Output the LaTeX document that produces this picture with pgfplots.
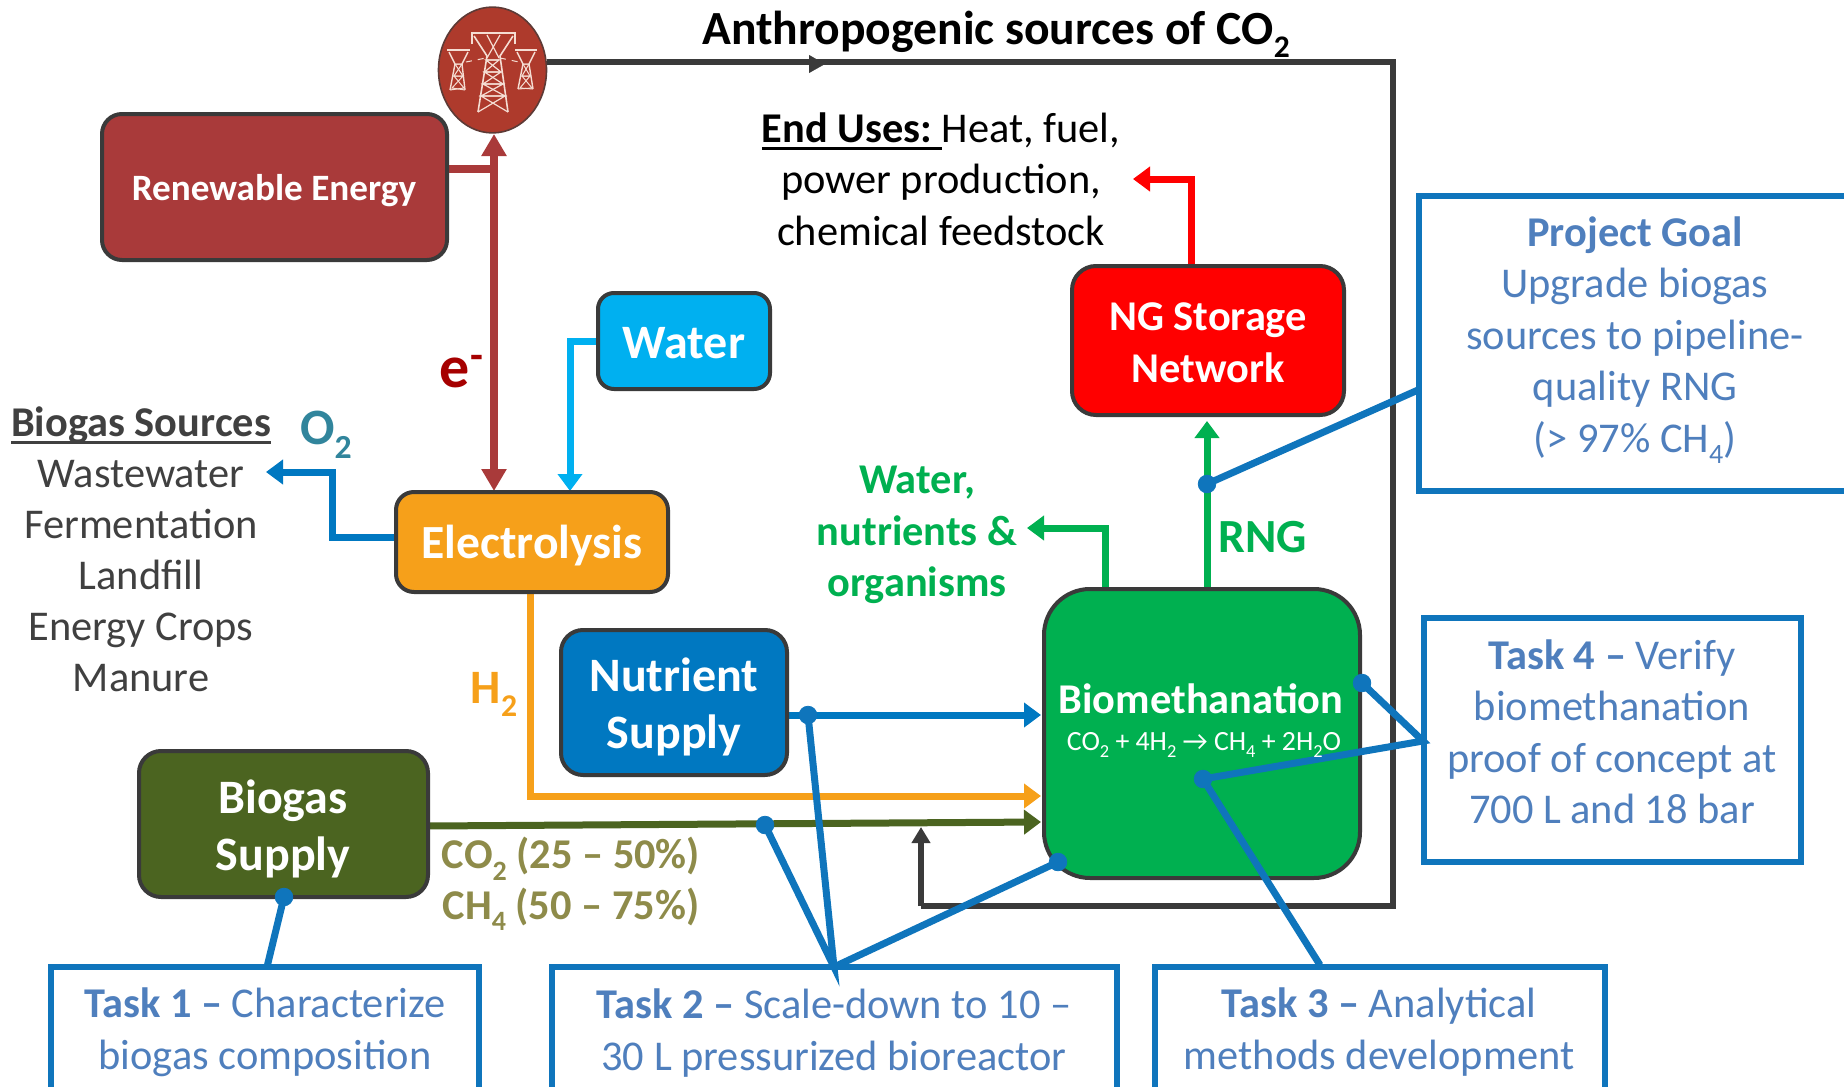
\documentclass[border=0pt]{standalone}
\usepackage{fontspec}
\setmainfont{Carlito}
\usepackage{pgfplots}
\pgfplotsset{compat=1.18}
\usetikzlibrary{arrows.meta}

\definecolor{frame}{HTML}{3A3A3A}
\definecolor{leader}{HTML}{0F75BC}
\definecolor{tasktxt}{HTML}{4F7FBD}
\definecolor{brick}{HTML}{A93A3A}
\definecolor{badge}{HTML}{AE3A2C}
\definecolor{sky}{HTML}{00B0F0}
\definecolor{amber}{HTML}{F6A01A}
\definecolor{deepblue}{HTML}{0078C1}
\definecolor{olive}{HTML}{4B6420}
\definecolor{grass}{HTML}{00B050}
\definecolor{khaki}{HTML}{8E8B4A}
\definecolor{teal}{HTML}{31859C}
\definecolor{grayt}{HTML}{404040}
\definecolor{pale}{HTML}{F5DDD3}

\newcommand{\fs}[2]{\fontsize{#1}{#2}\selectfont}
\newcommand{\ssub}[1]{\raisebox{-0.27em}{\scalebox{0.66}{#1}}}
\newsavebox{\ulbox}
\newcommand{\ul}[1]{\sbox{\ulbox}{#1}\usebox{\ulbox}\llap{\rule[-3.8pt]{\wd\ulbox}{1.3pt}}}

\pgfplotsset{
  link/.style={no markers, forget plot, line join=miter, line width=3.5pt},
  arr/.style={link, -{Triangle[length=8.5pt,width=12pt]}},
  box/.style={no markers, forget plot, draw=frame, line width=2pt, rounded corners=#1},
  task/.style={no markers, forget plot, draw=leader, line width=2.7pt, fill=white, line join=miter},
  dots/.style={only marks, forget plot, mark=*, mark size=4.4pt, mark options={fill=leader, draw=leader}},
  tower/.style={no markers, forget plot, color=pale, line width=0.8pt},
}

\begin{document}
\begin{tikzpicture}
\useasboundingbox (0,0) rectangle (922pt,543.5pt);
\begin{axis}[
  at={(0,0)}, anchor=south west,
  width=922pt, height=543.5pt, scale only axis,
  xmin=0, xmax=1844, ymin=0, ymax=1087,
  y dir=reverse, hide axis, clip marker paths=true,
]
% outer CO2 loop
\addplot[link, color=frame, line width=2.8pt] coordinates {(547,62) (1393,62) (1393,906) (921,906)};
\addplot[arr, color=frame, line width=2.8pt, -{Triangle[length=8pt,width=9pt]}] coordinates {(921,906) (921,827)};
\addplot[arr, color=frame, line width=0.1pt, -{Triangle[length=8pt,width=9pt]}] coordinates {(780,64) (825,64)};

% flows
\addplot[link, color=brick, line width=4pt] coordinates {(447,169) (494,169)};
\addplot[arr, color=brick, line width=4pt, {Triangle[length=11pt,width=12pt]}-{Triangle[length=11pt,width=12pt]}] coordinates {(494,134) (494,491)};
\addplot[arr, color=sky] coordinates {(597,341) (570,341) (570,491)};
\addplot[arr, color=deepblue] coordinates {(396,537) (332,537) (332,472) (266,472)};
\addplot[arr, color=amber] coordinates {(530,592) (530,796) (1041,796)};
\addplot[arr, color=olive] coordinates {(428,826) (1041,822)};
\addplot[arr, color=deepblue] coordinates {(787,715) (1041,715)};
\addplot[arr, color=grass] coordinates {(1105,588) (1105,528) (1027,528)};
\addplot[arr, color=grass] coordinates {(1207,588) (1207,421)};
\addplot[arr, color=red] coordinates {(1191,266) (1191,179) (1133,179)};

% process boxes
\addplot[box=10pt, fill=brick] coordinates {(102,114) (447,114) (447,260) (102,260)} --cycle;
\addplot[box=8pt, fill=sky] coordinates {(598,293) (770,293) (770,389) (598,389)} --cycle;
\addplot[box=9pt, fill=amber] coordinates {(396,492) (668,492) (668,592) (396,592)} --cycle;
\addplot[box=11pt, fill=deepblue] coordinates {(561,630) (787,630) (787,775) (561,775)} --cycle;
\addplot[box=11pt, fill=olive] coordinates {(139,751) (428,751) (428,897) (139,897)} --cycle;
\addplot[box=12pt, fill=red] coordinates {(1072,266) (1344,266) (1344,415) (1072,415)} --cycle;
\addplot[box=23pt, fill=grass] coordinates {(1044,589) (1360,589) (1360,878) (1044,878)} --cycle;

% pylon badge
\addplot[only marks, forget plot, mark=*, mark size=27pt, mark options={yscale=1.165, fill=badge, draw=frame!70!badge, line width=0.8pt}] coordinates {(492.5,70)};
\addplot[tower, line width=1.1pt] coordinates {(472,44) (472,33) (515,33) (515,44)};
\addplot[tower] coordinates {(474,36) (487,56) (478,112)};
\addplot[tower] coordinates {(513,36) (500,56) (508,112)};
\addplot[tower, line width=0.6pt] coordinates {(486,60) (499,60) (484.5,72) (501,72) (483,84) (503,84) (481,96) (505,96) (478,112)};
\addplot[tower, line width=0.6pt] coordinates {(499,60) (486,60) (501,72) (484.5,72) (503,84) (483,84) (505,96) (481,96) (508,112)};
\addplot[tower, line width=0.6pt] coordinates {(487,35) (499,58)};
\addplot[tower, line width=0.6pt] coordinates {(500,35) (487,58)};
\addplot[tower, line width=0.9pt] coordinates {(447,50) (470,50)};
\addplot[tower, line width=0.7pt] coordinates {(449,52) (455,64) (450,90)};
\addplot[tower, line width=0.7pt] coordinates {(468,52) (462,64) (465,90)};
\addplot[tower, line width=0.5pt] coordinates {(455,64) (462,64) (454,76) (463,76) (452,88) (465,90)};
\addplot[tower, line width=0.5pt] coordinates {(462,64) (455,64) (463,76) (454,76) (464,88) (450,90)};
\addplot[tower, line width=0.9pt] coordinates {(515,50) (537,50)};
\addplot[tower, line width=0.7pt] coordinates {(517,52) (523,64) (518,89)};
\addplot[tower, line width=0.7pt] coordinates {(535,52) (529,64) (533,89)};
\addplot[tower, line width=0.5pt] coordinates {(523,64) (529,64) (522,76) (530,76) (520,88) (533,89)};
\addplot[tower, line width=0.5pt] coordinates {(529,64) (523,64) (530,76) (522,76) (532,88) (518,89)};
\addplot[tower, dashed, line width=0.5pt] coordinates {(466,62) (486,58)};
\addplot[tower, dashed, line width=0.5pt] coordinates {(500,58) (519,62)};

% task boxes, cut by the picture edge where the reference is
\addplot[task] coordinates {(51,1095) (51,967) (479,967) (479,1095)};
\addplot[task] coordinates {(552,1095) (552,967) (1117,967) (1117,1095)};
\addplot[task] coordinates {(1155,1095) (1155,967) (1605,967) (1605,1095)};
\addplot[task] coordinates {(1424,618) (1801,618) (1801,862) (1424,862)} --cycle;
\addplot[task] coordinates {(1852,196) (1419,196) (1419,491) (1852,491)};

% leaders
\addplot[link, color=leader] coordinates {(1207,484) (1418,390)};
\addplot[link, color=leader] coordinates {(284,897) (267,967)};
\addplot[link, color=leader] coordinates {(808,715) (834,967) (765,825)};
\addplot[link, color=leader] coordinates {(834,967) (1058,862)};
\addplot[link, color=leader] coordinates {(1203,779) (1320,965)};
\addplot[link, color=leader] coordinates {(1362,683) (1423,741) (1203,779)};
\addplot[dots] coordinates {(1207,484) (284,897) (808,715) (765,825) (1058,862) (1203,779) (1362,683)};

% labels
\node[font=\fs{23.8}{28}\bfseries, text=black] at (996,34) {Anthropogenic sources of CO\ssub{2}};
\node[font=\fs{21.2}{25.85}, align=center] at (941,179) {\ul{\textbf{End Uses:}\ }Heat, fuel,\\power production,\\chemical feedstock};
\node[font=\fs{21.2}{25.5}, align=center, text=grayt] at (141,549) {\ul{\textbf{Biogas Sources}}\\Wastewater\\Fermentation\\Landfill\\Energy Crops\\Manure};
\node[font=\fs{18.6}{22}\bfseries, text=white] at (274,191) {Renewable Energy};
\node[font=\fs{24}{28}\bfseries, text=white] at (684,343) {Water};
\node[font=\fs{23.8}{28}\bfseries, text=white] at (532,546) {Electrolysis};
\node[font=\fs{24}{28.8}\bfseries, text=white, align=center] at (674,707) {Nutrient\\Supply};
\node[font=\fs{24}{28.8}\bfseries, text=white, align=center] at (283,829) {Biogas\\Supply};
\node[font=\fs{21.2}{25.85}\bfseries, text=white, align=center] at (1208,343) {NG Storage\\Network};
\node[font=\fs{21.2}{25.85}\bfseries, text=white] at (1201,699) {Biomethanation};
\node[font=\fs{13.9}{16}, text=white] at (1204,745) {CO\ssub{2} + 4H\ssub{2} → CH\ssub{4} + 2H\ssub{2}O};
\node[font=\fs{30}{34}\bfseries, text=red!65!black] at (462,372) {e\textsuperscript{-}};
\node[font=\fs{25.5}{30}\bfseries, text=teal] at (326,435) {O\ssub{2}};
\node[font=\fs{24}{28}\bfseries, text=amber] at (494,694) {H\ssub{2}};
\node[font=\fs{23.8}{28}\bfseries, text=grass] at (1263,537) {RNG};
\node[font=\fs{21.2}{25.85}\bfseries, text=grass, align=center] at (917,535) {Water,\\nutrients \&\\organisms};
\node[font=\fs{21.2}{25.3}\bfseries, text=khaki, align=center] at (571,884) {CO\ssub{2} (25 – 50\%)\\CH\ssub{4} (50 – 75\%)};
\node[font=\fs{21.2}{25.75}, text=tasktxt, align=center] at (1635,340) {\textbf{Project Goal}\\Upgrade biogas\\sources to pipeline-\\quality RNG\\(> 97\% CH\ssub{4})};
\node[font=\fs{21.2}{25.75}, text=tasktxt, align=center] at (1612,732) {\textbf{Task 4 –} Verify\\biomethanation\\proof of concept at\\700 L and 18 bar};
\node[font=\fs{21.2}{25.85}, text=tasktxt, align=center] at (265,1032) {\textbf{Task 1 –} Characterize\\biogas composition};
\node[font=\fs{21.2}{25.85}, text=tasktxt, align=center] at (834,1033) {\textbf{Task 2 –} Scale-down to 10 –\\30 L pressurized bioreactor};
\node[font=\fs{21.2}{25.85}, text=tasktxt, align=center] at (1379,1032) {\textbf{Task 3 –} Analytical\\methods development};
\end{axis}
\end{tikzpicture}
\end{document}
